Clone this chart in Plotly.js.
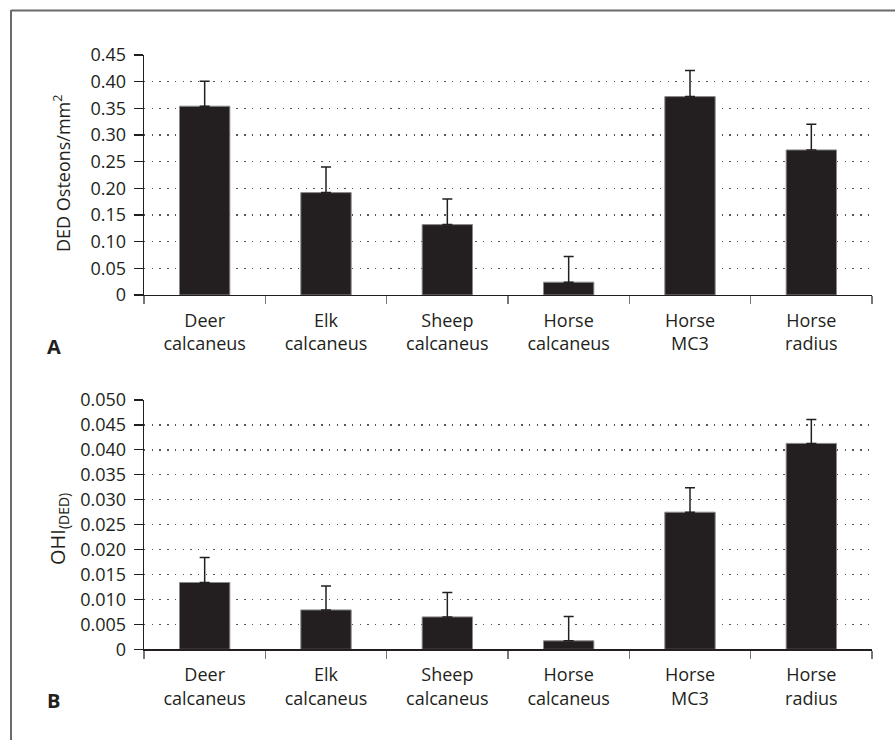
<!DOCTYPE html>
<html>
<head>
<meta charset="utf-8">
<script src="https://cdn.plot.ly/plotly-3.0.1.min.js"></script>
<style>html,body{margin:0;padding:0;background:#fff;}#chart{width:895px;height:740px;}</style>
</head>
<body>
<div id="chart"></div>
<script>
// Categories (x axis) shared by both panels
const categories = ["Deer<br>calcaneus", "Elk<br>calcaneus", "Sheep<br>calcaneus", "Horse<br>calcaneus", "Horse<br>MC3", "Horse<br>radius"];

// Panel A: DED osteons per mm^2 (mean, + error)
const dedDensity = [0.354, 0.192, 0.132, 0.024, 0.372, 0.272];
const dedError   = [0.047, 0.048, 0.048, 0.048, 0.049, 0.048];

// Panel B: OHI(DED) (mean, + error)
const ohiDed   = [0.0134, 0.0079, 0.0065, 0.0017, 0.0275, 0.0413];
const ohiError = [0.0050, 0.0048, 0.0049, 0.0049, 0.0049, 0.0048];

// Tick labels
const ticksA = [0, 0.05, 0.10, 0.15, 0.20, 0.25, 0.30, 0.35, 0.40, 0.45];
const tickTextA = ["0", "0.05", "0.10", "0.15", "0.20", "0.25", "0.30", "0.35", "0.40", "0.45"];
const ticksB = [0, 0.005, 0.010, 0.015, 0.020, 0.025, 0.030, 0.035, 0.040, 0.045, 0.050];
const tickTextB = ["0", "0.005", "0.010", "0.015", "0.020", "0.025", "0.030", "0.035", "0.040", "0.045", "0.050"];

const W = 895, H = 740;
const dark = '#231f20';
const zeros = categories.map(() => 0);

function barTrace(y, err, xa, ya) {
  return {
    type: 'bar', x: categories, y: y, xaxis: xa, yaxis: ya,
    marker: {color: dark, line: {color: '#8a8a8a', width: 1}},
    error_y: {type: 'data', symmetric: false, array: err, arrayminus: zeros,
              color: dark, thickness: 1.5, width: 5},
    hoverinfo: 'skip'
  };
}

const xDom = [144 / W, 872 / W];
const domA = [1 - 295 / H, 1 - 55 / H];
const domB = [1 - 649.3 / H, 1 - 400 / H];

function xAxis(anchor) {
  return {
    domain: xDom, anchor: anchor, type: 'category', range: [-0.5, 5.5],
    tickson: 'boundaries', ticks: 'outside', ticklen: 8, tickwidth: 1.2, tickcolor: '#777',
    ticklabelstandoff: 9,
    showline: true, linecolor: dark, linewidth: 1.3, showgrid: false, zeroline: false,
    tickfont: {family: 'Open Sans', size: 18, color: dark}, automargin: false, fixedrange: true
  };
}
function yAxis(anchor, dom, rng, tv, tt) {
  return {
    domain: dom, anchor: anchor, range: rng, tickmode: 'array', tickvals: tv, ticktext: tt,
    ticks: 'outside', ticklen: 9, tickwidth: 1.2, tickcolor: dark, ticklabelstandoff: 4,
    showline: true, linecolor: dark, linewidth: 1.3,
    showgrid: true, gridcolor: '#555', gridwidth: 1.4, griddash: '1.4px,6.3px',
    zeroline: false, tickfont: {family: 'Open Sans', size: 18, color: dark},
    automargin: false, fixedrange: true
  };
}

const layout = {
  width: W, height: H, margin: {l: 0, r: 0, t: 0, b: 0},
  paper_bgcolor: '#fff', plot_bgcolor: '#fff', showlegend: false, bargap: 0.585,
  font: {family: 'Open Sans', color: dark},
  xaxis: xAxis('y'),
  yaxis: yAxis('x', domA, [0, 0.45], ticksA, tickTextA),
  xaxis2: xAxis('y2'),
  yaxis2: yAxis('x2', domB, [0, 0.05], ticksB, tickTextB),
  shapes: [
    {type: 'line', xref: 'paper', yref: 'paper', x0: 11 / W, x1: 11 / W, y0: 0, y1: 1 - 10 / H,
     line: {color: '#6a6a6a', width: 2}},
    {type: 'line', xref: 'paper', yref: 'paper', x0: 11 / W, x1: 1, y0: 1 - 10.5 / H, y1: 1 - 10.5 / H,
     line: {color: '#6a6a6a', width: 2}}
  ],
  annotations: [
    {text: 'DED Osteons/mm<sup>2</sup>', xref: 'paper', yref: 'paper', x: 62 / W, y: 1 - 174 / H,
     xanchor: 'center', yanchor: 'middle', textangle: -90, showarrow: false,
     font: {family: 'Open Sans', size: 18, color: dark}},
    {text: 'OHI<sub>(DED)</sub>', xref: 'paper', yref: 'paper', x: 58 / W, y: 1 - 529 / H,
     xanchor: 'center', yanchor: 'middle', textangle: -90, showarrow: false,
     font: {family: 'Open Sans', size: 20, color: dark}},
    {text: '<b>A</b>', xref: 'paper', yref: 'paper', x: 54 / W, y: 1 - 346 / H,
     xanchor: 'center', yanchor: 'middle', showarrow: false,
     font: {family: 'Open Sans', size: 20, color: dark}},
    {text: '<b>B</b>', xref: 'paper', yref: 'paper', x: 53 / W, y: 1 - 700 / H,
     xanchor: 'center', yanchor: 'middle', showarrow: false,
     font: {family: 'Open Sans', size: 20, color: dark}}
  ]
};

Plotly.newPlot('chart', [
  barTrace(dedDensity, dedError, 'x', 'y'),
  barTrace(ohiDed, ohiError, 'x2', 'y2')
], layout, {staticPlot: true, displayModeBar: false});
</script>
</body>
</html>
